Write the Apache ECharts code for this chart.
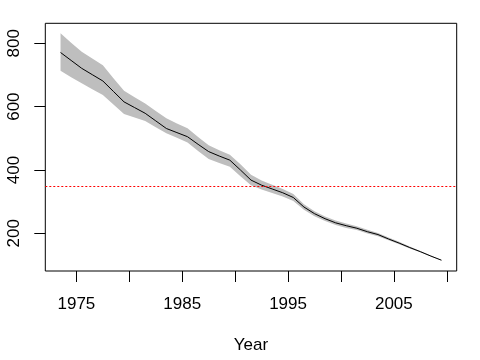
<!DOCTYPE html>
<html>
<head>
<meta charset="utf-8">
<script src="https://cdn.jsdelivr.net/npm/echarts@6/dist/echarts.min.js"></script>
<style>html,body{margin:0;padding:0;background:#fff}#c{width:480px;height:360px}</style>
</head>
<body>
<div id="c"></div>
<script>
var years = [1973.5,1974.5,1975.5,1976.5,1977.5,1978.5,1979.5,1980.5,1981.5,1982.5,1983.5,1984.5,1985.5,1986.5,1987.5,1988.5,1989.5,1990.5,1991.5,1992.5,1993.5,1994.5,1995.5,1996.5,1997.5,1998.5,1999.5,2000.5,2001.5,2002.5,2003.5,2004.5,2005.5,2006.5,2007.5,2008.5,2009.5];
var meanVals = [771,746,721,701,681,648,615,597,579,555,531,518,505,481,458,444,431,400,368,352,340,328,313,283,262,246,233,224,216,205,196,182,169,155,142,128,115];
var lowerVals = [713,693,674,655,637,607,577,566,555,535,516,502,487,460,435,422,410,380,352,338,327,316,302,274,254,239,226,217,210,199,191,178,165,152,140,127,114];
var upperVals = [832,802,773,752,731,690,650,630,610,586,563,547,532,504,478,462,448,418,385,367,353,340,324,292,270,253,240,231,222,211,201,187,173,158,144,130,116];
var xTicks = [1975,1980,1985,1990,1995,2000,2005,2010];
var xLabels = [1975,1985,1995,2005];
var yTicks = [200,400,600,800];
var refLevel = 350;

var font = 'Liberation Sans, Arial, sans-serif';
var chart = echarts.init(document.getElementById('c'), null, {renderer:'canvas'});
var bandData = years.map(function(y,i){return [y, lowerVals[i], upperVals[i]];});
chart.setOption({
  animation: false,
  backgroundColor: '#fff',
  grid: {left: 45.3, right: 23.3, top: 23.3, bottom: 89, show: true, borderColor: '#000', borderWidth: 1, backgroundColor: 'transparent'},
  xAxis: {
    type: 'value', min: 1972.06, max: 2010.94,
    name: 'Year', nameLocation: 'middle', nameGap: 66,
    nameTextStyle: {color: '#000', fontSize: 17, fontFamily: font},
    axisLine: {show: false},
    splitLine: {show: false},
    axisTick: {show: true, length: 11, lineStyle: {color: '#000', width: 1}, customValues: xTicks},
    axisLabel: {color: '#000', fontSize: 17, fontFamily: font, margin: 25, customValues: xLabels,
      formatter: function(v){return String(v);}}
  },
  yAxis: {
    type: 'value', min: 80.9, max: 863.2,
    axisLine: {show: false},
    splitLine: {show: false},
    axisTick: {show: true, length: 11, lineStyle: {color: '#000', width: 1}, customValues: yTicks},
    axisLabel: {color: '#000', fontSize: 17, fontFamily: font, margin: 22, rotate: 90, customValues: yTicks,
      formatter: function(v){return String(v);}}
  },
  series: [
    {type: 'custom', silent: true, clip: true,
     data: bandData,
     encode: {x: 0, y: [1, 2]},
     renderItem: function(params, api){
       if (params.dataIndex !== 0) return null;
       var pts = [];
       for (var j = 0; j < bandData.length; j++) pts.push(api.coord([bandData[j][0], bandData[j][2]]));
       for (var k = bandData.length - 1; k >= 0; k--) pts.push(api.coord([bandData[k][0], bandData[k][1]]));
       return {type: 'polygon', shape: {points: pts}, style: {fill: '#bebebe', stroke: null}};
     }},
    {type: 'line', symbol: 'none', silent: true,
     data: years.map(function(y,i){return [y, meanVals[i]];}),
     lineStyle: {color: '#000', width: 1},
     markLine: {silent: true, symbol: 'none', label: {show: false},
       lineStyle: {color: '#ff0000', width: 1, type: [2,2]},
       data: [{yAxis: refLevel}]}}
  ]
});
</script>
</body>
</html>
